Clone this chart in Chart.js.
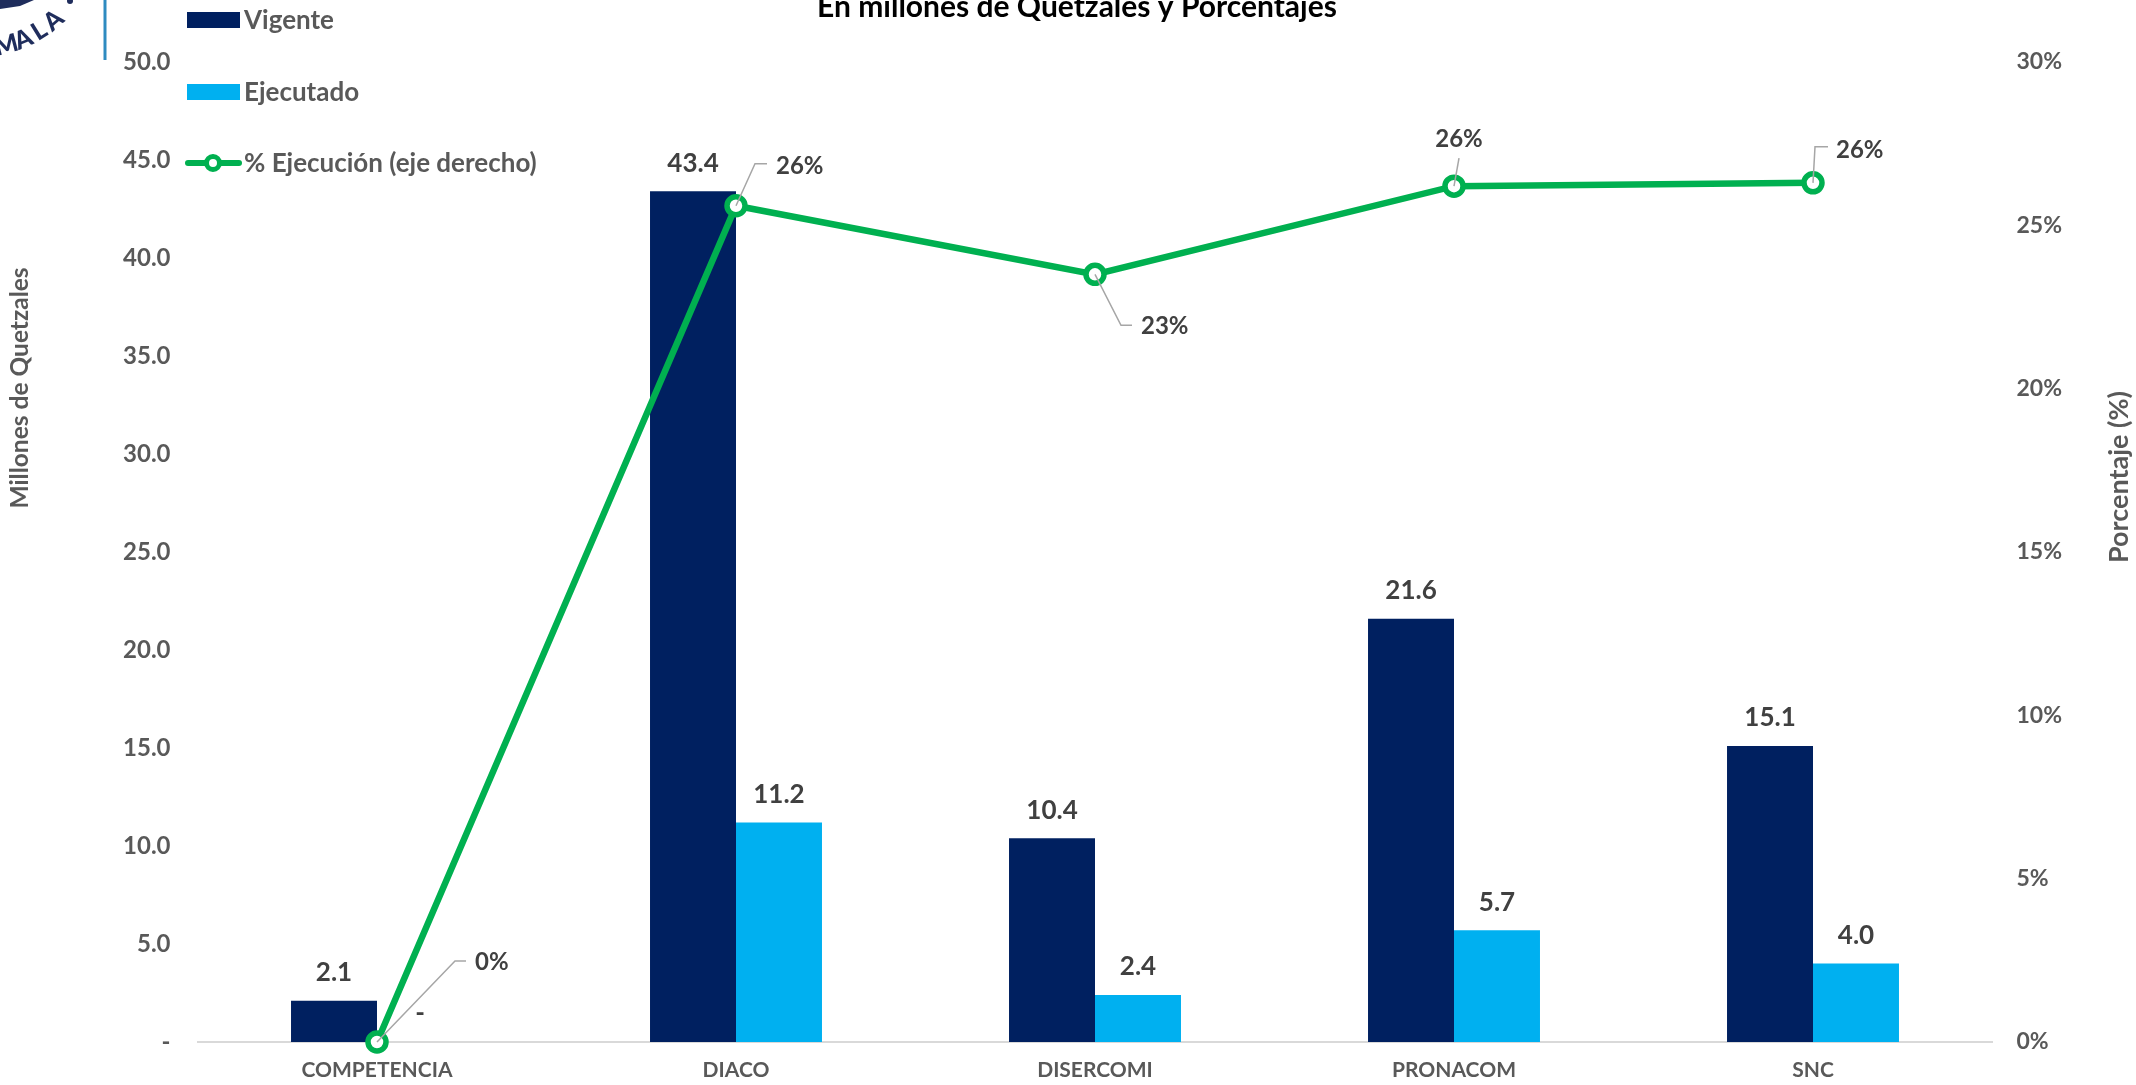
<!DOCTYPE html>
<html>
<head>
<meta charset="utf-8">
<script src="https://cdn.jsdelivr.net/npm/chart.js@4.4.1/dist/chart.umd.min.js"></script>
<style>
html,body{margin:0;padding:0;background:#fff;overflow:hidden}
#wrap{width:2136px;height:1085px;position:relative}
canvas{display:block}
</style>
</head>
<body>
<div id="wrap"><canvas id="c" width="2136" height="1085"></canvas></div>
<script>
// ---- data ----
const categories = ['COMPETENCIA', 'DIACO', 'DISERCOMI', 'PRONACOM', 'SNC'];
const vigente = [2.1, 43.4, 10.4, 21.6, 15.1];
const ejecutado = [0, 11.2, 2.4, 5.7, 4.0];
const ejecucionPct = [0, 25.6, 23.5, 26.2, 26.3];
const pctLabels = ['0%', '26%', '23%', '26%', '26%'];
const seriesNames = ['Vigente', 'Ejecutado', '% Ejecución (eje derecho)'];
const titleText = 'En millones de Quetzales y Porcentajes';
const leftAxisTitle = 'Millones de Quetzales';
const rightAxisTitle = 'Porcentaje (%)';

// ---- styles ----
const C_VIG = '#002060', C_EJE = '#00B0F0', C_PCT = '#00B050';
const C_TICK = '#595959', C_LABEL = '#404040', C_LEADER = '#A6A6A6';
const FONT = 'Lato, "Open Sans", sans-serif';
Chart.defaults.font.family = FONT;

// leader/label offsets for line labels (relative to point), styling only
const pctLabelLayout = [
  {path: [[78, -81], [89, -81]], tx: 98, ty: -80, align: 'left'},
  {path: [[19, -42], [31, -42]], tx: 40, ty: -39, align: 'left'},
  {path: [[26, 51], [37, 51]], tx: 46, ty: 52, align: 'left'},
  {path: [[5, -28]], tx: 5, ty: -47, align: 'center'},
  {path: [[2, -36], [15, -36]], tx: 23, ty: -33, align: 'left'}
];

const labelsPlugin = {
  id: 'valueLabels',
  afterDatasetsDraw(chart) {
    const ctx = chart.ctx;
    ctx.save();
    ctx.font = 'bold 26px ' + FONT;
    ctx.fillStyle = C_LABEL;
    ctx.textBaseline = 'middle';
    ctx.textAlign = 'center';
    [0, 1].forEach(di => {
      const meta = chart.getDatasetMeta(di);
      const vals = chart.data.datasets[di].data;
      meta.data.forEach((el, i) => {
        const v = vals[i];
        const txt = v === 0 ? '-' : v.toFixed(1);
        ctx.fillText(txt, el.x, el.y - 28);
      });
    });
    ctx.font = 'bold 24px ' + FONT;
    const lm = chart.getDatasetMeta(2);
    lm.data.forEach((el, i) => {
      const L = pctLabelLayout[i];
      ctx.strokeStyle = C_LEADER;
      ctx.lineWidth = 1.5;
      ctx.beginPath();
      ctx.moveTo(el.x, el.y);
      L.path.forEach(p => ctx.lineTo(el.x + p[0], el.y + p[1]));
      ctx.stroke();
      ctx.textAlign = L.align;
      ctx.fillStyle = C_LABEL;
      ctx.fillText(pctLabels[i], el.x + L.tx, el.y + L.ty);
    });
    ctx.restore();
  }
};

const decorPlugin = {
  id: 'decor',
  afterDraw(chart) {
    const ctx = chart.ctx;
    ctx.save();
    // title
    ctx.fillStyle = '#000';
    ctx.font = 'bold 30px ' + FONT;
    ctx.textAlign = 'center';
    ctx.textBaseline = 'alphabetic';
    ctx.fillText(titleText, 1077, 17);
    // axis titles
    ctx.fillStyle = C_TICK;
    ctx.textBaseline = 'middle';
    ctx.save();
    ctx.font = 'bold 24.5px ' + FONT;
    ctx.translate(20, 388); ctx.rotate(-Math.PI / 2);
    ctx.fillText(leftAxisTitle, 0, 0);
    ctx.restore();
    ctx.save();
    ctx.font = 'bold 27px ' + FONT;
    ctx.translate(2119, 477); ctx.rotate(-Math.PI / 2);
    ctx.fillText(rightAxisTitle, 0, 0);
    ctx.restore();
    // legend
    ctx.font = 'bold 26px ' + FONT;
    ctx.textAlign = 'left';
    ctx.fillStyle = C_VIG; ctx.fillRect(187, 12, 53, 16);
    ctx.fillStyle = C_EJE; ctx.fillRect(187, 84, 53, 16);
    ctx.strokeStyle = C_PCT; ctx.lineWidth = 6; ctx.lineCap = 'round';
    ctx.beginPath(); ctx.moveTo(188, 163); ctx.lineTo(239, 163); ctx.stroke();
    ctx.fillStyle = '#fff'; ctx.lineWidth = 5;
    ctx.beginPath(); ctx.arc(213, 163, 6.5, 0, Math.PI * 2); ctx.fill(); ctx.stroke();
    ctx.fillStyle = C_TICK;
    ctx.fillText(seriesNames[0], 244, 21);
    ctx.fillText(seriesNames[1], 244, 93);
    ctx.fillText(seriesNames[2], 244, 164);
    // logo fragment
    ctx.strokeStyle = '#2E8BC0'; ctx.lineWidth = 3; ctx.lineCap = 'butt';
    ctx.beginPath(); ctx.moveTo(105, 0); ctx.lineTo(105, 60); ctx.stroke();
    ctx.fillStyle = '#1F2D5C';
    ctx.font = '900 25px ' + FONT;
    ctx.textAlign = 'center'; ctx.textBaseline = 'middle';
    const word = 'GUATEMALA', cx = -24, cy = -71, r = 120;
    for (let i = 0; i < word.length; i++) {
      const th = (75.4 + (5 - i) * 8.6) * Math.PI / 180;
      const x = cx + r * Math.cos(th), y = cy + r * Math.sin(th);
      ctx.save(); ctx.translate(x, y); ctx.rotate(th - Math.PI / 2);
      ctx.fillText(word[i], 0, 0); ctx.restore();
    }
    ctx.beginPath(); ctx.arc(70, 1, 3, 0, Math.PI * 2); ctx.fill();
    ctx.beginPath(); ctx.moveTo(0, 0); ctx.lineTo(34, 0); ctx.lineTo(20, 6); ctx.lineTo(0, 9); ctx.closePath(); ctx.fill();
    ctx.restore();
  }
};

new Chart(document.getElementById('c'), {
  data: {
    labels: categories,
    datasets: [
      {type: 'bar', label: seriesNames[0], data: vigente, backgroundColor: C_VIG, yAxisID: 'y', order: 1,
       categoryPercentage: 0.479, barPercentage: 1.0},
      {type: 'bar', label: seriesNames[1], data: ejecutado, backgroundColor: C_EJE, yAxisID: 'y', order: 1,
       categoryPercentage: 0.479, barPercentage: 1.0},
      {type: 'line', label: seriesNames[2], data: ejecucionPct, yAxisID: 'y1', order: 0,
       borderColor: C_PCT, borderWidth: 6.5, pointRadius: 9, pointBorderWidth: 5.5,
       pointBackgroundColor: '#fff', pointBorderColor: C_PCT, tension: 0, clip: false}
    ]
  },
  options: {
    responsive: false,
    animation: false,
    devicePixelRatio: 1,
    layout: {padding: {top: 62, left: 0, right: 0, bottom: 0}},
    plugins: {legend: {display: false}, tooltip: {enabled: false}, title: {display: false}},
    scales: {
      x: {
        grid: {display: false, drawTicks: false},
        border: {display: true, color: '#D9D9D9', width: 2},
        ticks: {color: C_TICK, font: {size: 21, weight: 'bold'}, padding: 16, maxRotation: 0},
        afterFit(s) { s.height = 43; }
      },
      y: {
        position: 'left', min: 0, max: 50,
        grid: {display: false, drawTicks: false},
        border: {display: false},
        ticks: {stepSize: 5, color: C_TICK, font: {size: 24, weight: 'bold'}, padding: 27,
          callback: v => v === 0 ? '-' : Number(v).toFixed(1)},
        afterFit(s) { s.width = 197.5; }
      },
      y1: {
        position: 'right', min: 0, max: 30,
        grid: {display: false, drawTicks: false},
        border: {display: false},
        ticks: {stepSize: 5, color: C_TICK, font: {size: 23, weight: 'bold'}, padding: 24,
          callback: v => v + '%'},
        afterFit(s) { s.width = 143.5; }
      }
    }
  },
  plugins: [labelsPlugin, decorPlugin]
});
</script>
</body>
</html>
